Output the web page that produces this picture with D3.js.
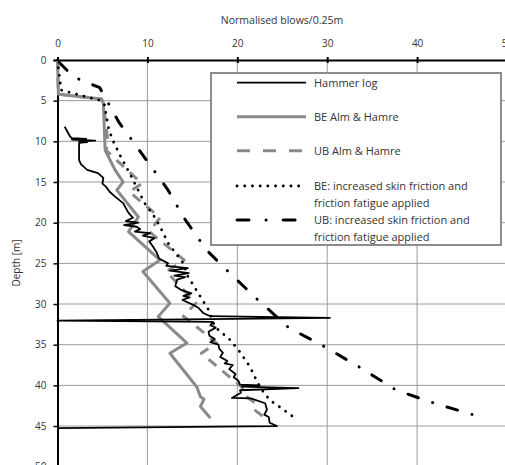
<!DOCTYPE html>
<html><head><meta charset="utf-8">
<script src="https://cdn.jsdelivr.net/npm/d3@7"></script>
<style>
html,body{margin:0;padding:0;background:#fff;overflow:hidden}
text{font-family:"Open Sans","Noto Sans",sans-serif;fill:#333}
</style></head>
<body><svg id="c" width="505" height="465"></svg>
<script>
// ---- data: [blows per 0.25m, depth m] ----
const xTicks = [0,10,20,30,40,50];
const yTicks = [0,5,10,15,20,25,30,35,40,45,50];
const xTitle = "Normalised blows/0.25m";
const yTitle = "Depth [m]";
const seriesNames = ["Hammer log","BE Alm & Hamre","UB Alm & Hamre",
  "BE: increased skin friction and|friction fatigue applied",
  "UB: increased skin friction and|friction fatigue applied"];

const hammerLog = [[0.8,8.2],[1.0,8.6],[1.2,9.0],[1.4,9.4],[1.6,9.6],[3.2,9.7],[1.6,9.8],[4.2,9.9],[2.4,10.0],[3.3,10.1],[2.4,10.2],[2.4,11.0],[2.4,12.3],[2.6,12.8],[3.3,13.5],[4.5,13.9],[5.1,14.5],[5.0,15.2],[5.4,15.6],[5.8,16.2],[6.4,16.8],[7.3,17.6],[7.9,18.8],[8.4,19.4],[7.6,19.8],[9.0,20.0],[7.4,20.3],[8.8,20.5],[9.2,20.8],[8.6,21.1],[10.3,21.3],[9.5,21.6],[10.8,21.9],[10.2,22.3],[10.6,22.9],[11.0,23.6],[11.3,24.4],[12.3,25.0],[12.1,25.3],[14.5,25.6],[12.5,25.9],[14.6,26.2],[13.0,26.5],[14.2,26.7],[13.3,27.0],[13.1,27.8],[13.8,28.3],[14.9,28.7],[14.0,29.0],[14.7,29.2],[13.9,29.5],[15.1,30.1],[15.7,30.5],[16.2,31.1],[17.0,31.5],[30.3,31.7],[17.0,31.85],[0,32.05],[17.3,32.2],[17.0,32.6],[17.6,32.9],[16.8,33.4],[16.9,33.9],[17.5,34.3],[17.0,34.7],[17.9,35.0],[18.0,35.5],[18.4,36.0],[18.1,36.5],[18.9,37.0],[18.6,37.3],[19.5,37.5],[19.1,38.0],[19.8,38.6],[19.6,39.0],[20.1,39.4],[20.3,39.9],[22.5,40.0],[20.5,40.15],[26.8,40.35],[20.3,40.6],[20.4,40.9],[19.4,41.55],[21.5,41.6],[23.1,42.2],[23.3,43.0],[23.0,43.6],[23.5,43.9],[23.6,44.6],[24.4,45.0],[0,45.25]];

const beAlmHamre = [[0,0],[0.1,4.2],[4.9,4.8],[5.1,5.3],[5.3,11.1],[6.4,13.5],[7.3,15.0],[6.6,16.0],[9.0,19.3],[7.9,21.1],[11.4,24.6],[9.5,26.0],[12.5,29.9],[11.2,31.55],[14.4,34.8],[12.5,36.05],[15.5,40.2],[15.9,41.4],[16.3,41.7],[15.9,42.6],[17.0,44.0]];

const ubAlmHamre = [[0,0],[0.1,4.2],[4.9,4.8],[5.1,5.3],[5.6,10.0],[5.4,11.1],[9.4,15.2],[8.0,16.2],[11.4,19.4],[10.2,21.1],[14.1,24.6],[12.1,26.0],[15.4,29.9],[14.0,31.5],[17.7,34.8],[16.0,36.05],[20.5,40.2],[20.8,41.2],[22.0,42.2],[21.9,43.0],[22.9,43.85]];

const beIncreased = [[0,0],[0.4,3.7],[4.8,5.0],[5.2,5.4],[5.7,8.5],[6.2,10.0],[7.0,11.8],[8.1,14.1],[9.7,17.6],[10.8,19.3],[11.6,20.9],[12.3,22.5],[14.0,25.0],[14.5,26.6],[15.9,29.1],[16.8,30.7],[17.5,32.8],[19.2,34.4],[20.3,35.9],[21.4,37.7],[22.5,40.2],[23.6,41.8],[24.9,42.8],[26.2,43.85]];

const ubIncreased = [[0.2,0.3],[1.8,2.1],[4.7,3.4],[5.4,4.8],[6.8,7.6],[9.5,11.7],[12.3,16.0],[14.0,19.3],[16.6,23.4],[18.8,25.8],[22.2,29.4],[25.7,32.9],[29.8,35.3],[33.8,37.9],[37.7,40.6],[42.2,42.3],[46.8,43.8]];

const svg = d3.select("#c");
const x = d3.scaleLinear().domain([0,50]).range([57.5,507]);
const y = d3.scaleLinear().domain([0,50]).range([60,466.7]);
const FONT = "'Open Sans',sans-serif";

// gridlines
svg.append("g").selectAll("line").data(yTicks.filter(d=>d>0)).join("line")
  .attr("x1",x(0)).attr("x2",x(50)).attr("y1",d=>y(d)).attr("y2",d=>y(d))
  .attr("stroke","#9a9a9a").attr("stroke-width",1);
svg.append("g").selectAll("line").data(xTicks.filter(d=>d>0)).join("line")
  .attr("y1",y(0)).attr("y2",y(50)).attr("x1",d=>x(d)).attr("x2",d=>x(d))
  .attr("stroke","#9a9a9a").attr("stroke-width",1);

// axes
const gx = svg.append("g").attr("transform",`translate(0,${y(0)})`)
  .call(d3.axisTop(x).tickValues(xTicks).tickSize(3).tickPadding(10));
gx.select(".domain").attr("stroke","#000").attr("stroke-width",2);
gx.selectAll(".tick line").attr("stroke","#000").attr("stroke-width",2).attr("y2",3).attr("y1",-3);
gx.selectAll("text").attr("font-size",10).attr("fill","#333").style("font-family",FONT);

const gy = svg.append("g").attr("transform",`translate(${x(0)},0)`)
  .call(d3.axisLeft(y).tickValues(yTicks).tickSize(4).tickPadding(7));
gy.select(".domain").attr("stroke","#000").attr("stroke-width",2);
gy.selectAll(".tick line").attr("stroke","#000").attr("stroke-width",1.5);
gy.selectAll("text").attr("font-size",10).attr("fill","#333").style("font-family",FONT);

svg.append("text").attr("x",282).attr("y",24).attr("text-anchor","middle")
  .attr("font-size",10.5).text(xTitle);
svg.append("text").attr("transform",`translate(20,${263}) rotate(-90)`).attr("text-anchor","middle")
  .attr("font-size",10).text(yTitle);

const line = d3.line().x(d=>x(d[0])).y(d=>y(d[1]));
const styles = [
  {data:hammerLog, stroke:"#000", w:1.8, dash:null, cap:"butt"},
  {data:beAlmHamre, stroke:"#8a8a8a", w:3, dash:null, cap:"butt"},
  {data:ubAlmHamre, stroke:"#8a8a8a", w:3, dash:"10,8", cap:"butt"},
  {data:beIncreased, stroke:"#000", w:2.8, dash:"0.1,7.6", cap:"round"},
  {data:ubIncreased, stroke:"#000", w:3, dash:"11,15,0.1,15", cap:"round"}
];
const plot = svg.append("g");
[1,2,3,4,0].forEach(i=>{
  const s = styles[i];
  plot.append("path").attr("d",line(s.data)).attr("fill","none")
    .attr("stroke",s.stroke).attr("stroke-width",s.w)
    .attr("stroke-dasharray",s.dash).attr("stroke-linecap",s.cap)
    .attr("stroke-linejoin","round");
});

// legend
const lg = svg.append("g");
lg.append("rect").attr("x",211).attr("y",73).attr("width",290).attr("height",172)
  .attr("fill","#fff").attr("stroke","#8c8c8c").attr("stroke-width",2);
const rows = [82.7,116.7,150.7,186,220];
seriesNames.forEach((name,i)=>{
  const s = styles[i];
  lg.append("line").attr("x1",237).attr("x2",306).attr("y1",rows[i]).attr("y2",rows[i])
    .attr("stroke",s.stroke).attr("stroke-width",s.w)
    .attr("stroke-dasharray",i===2?"13,13":(i===4?"12,17,0.1,17":s.dash))
    .attr("stroke-linecap",s.cap);
  name.split("|").forEach((t,j)=>{
    lg.append("text").attr("x",314).attr("y",rows[i]+j*17).attr("dy","0.35em")
      .attr("font-size",11).text(t);
  });
});
</script></body></html>
